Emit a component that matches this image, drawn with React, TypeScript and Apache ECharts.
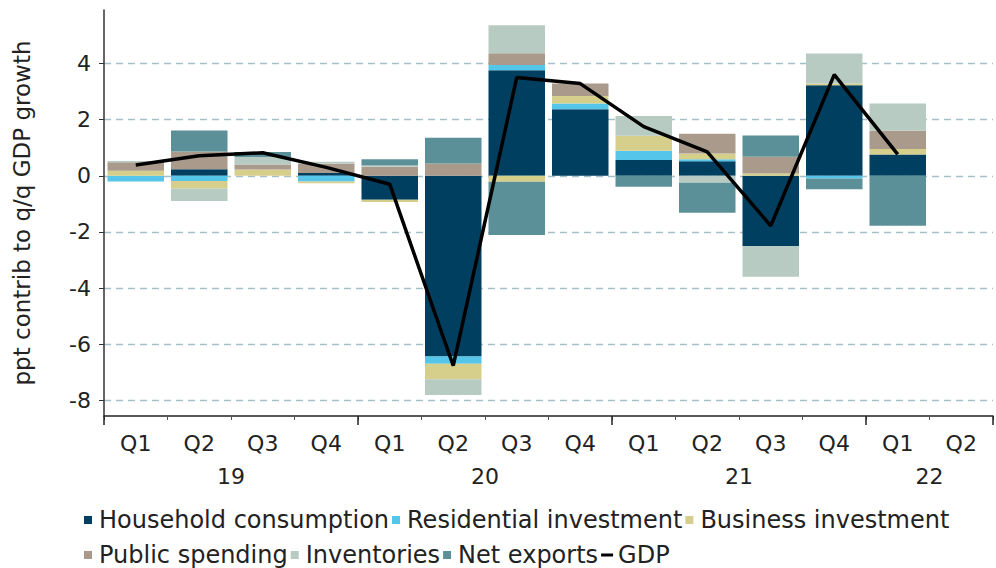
import React, { useEffect, useRef } from "react";
import * as echarts from "echarts";

const quarters = ["Q1", "Q2", "Q3", "Q4", "Q1", "Q2", "Q3", "Q4", "Q1", "Q2", "Q3", "Q4", "Q1", "Q2"];
const years = ["19", "19", "19", "19", "20", "20", "20", "20", "21", "21", "21", "21", "22", "22"];

const household = [0, 0.23, 0, 0.1, -0.85, -6.43, 3.76, 2.37, 0.56, 0.52, -2.5, 3.22, 0.76, null];
const residential = [-0.2, -0.19, 0, -0.2, 0, -0.26, 0.18, 0.2, 0.33, 0.07, 0, -0.1, 0, null];
const business = [0.18, -0.26, 0.22, -0.07, -0.08, -0.55, -0.21, 0.27, 0.53, 0.2, 0.08, 0.06, 0.19, null];
const publicSpending = [0.3, 0.63, 0.18, 0.33, 0.32, 0.44, 0.42, 0.44, 0, 0.71, 0.6, 0, 0.65, null];
const inventories = [0.05, -0.45, 0.27, 0.07, 0.05, -0.56, 1.0, 0, 0.71, -0.25, -1.09, 1.07, 0.97, null];
const netExports = [0, 0.75, 0.18, 0, 0.22, 0.91, -1.9, 0, -0.39, -1.07, 0.75, -0.38, -1.78, null];
const gdp = [0.38, 0.71, 0.82, 0.3, -0.3, -6.76, 3.5, 3.28, 1.75, 0.85, -1.78, 3.6, 0.76, null];

const FONT = "DejaVu Sans";

export default function App() {
  const ref = useRef<HTMLDivElement>(null);
  useEffect(() => {
    document.body.style.margin = "0";
    const chart = echarts.init(ref.current!, null, { renderer: "svg" });

    // year label centres computed from the quarter/year lists
    const yearCentres: Record<string, string> = {};
    const uniq = Array.from(new Set(years));
    uniq.forEach((y) => {
      const first = years.indexOf(y);
      const last = years.lastIndexOf(y);
      yearCentres[String((first + last + 1) / 2)] = y;
    });

    const barSeries = [
      { name: "Household consumption", data: household, color: "#003f5f" },
      { name: "Residential investment", data: residential, color: "#55c5ea" },
      { name: "Business investment", data: business, color: "#d6cf8b" },
      { name: "Public spending", data: publicSpending, color: "#a99a8c" },
      { name: "Inventories", data: inventories, color: "#b8cbc2" },
      { name: "Net exports", data: netExports, color: "#5b9099" },
    ].map((s) => ({
      type: "bar",
      name: s.name,
      data: s.data,
      stack: "total",
      xAxisIndex: 0,
      yAxisIndex: 0,
      barCategoryGap: "11%",
      itemStyle: { color: s.color },
    }));

    const sq = "path://M0,0H8V8H0Z";
    chart.setOption({
      animation: false,
      grid: { left: 104, right: -8, top: 10, bottom: 152 },
      legend: {
        left: 84,
        top: 504,
        width: 890,
        padding: 0,
        itemWidth: 12,
        itemHeight: 8,
        itemGap: 3,
        textStyle: { fontFamily: FONT, fontSize: 24, color: "#222", lineHeight: 32 },
        data: [
          { name: "Household consumption", icon: sq },
          { name: "Residential investment", icon: sq },
          { name: "Business investment", icon: sq },
          { name: "Public spending", icon: sq },
          { name: "Inventories", icon: sq },
          { name: "Net exports", icon: sq },
          { name: "GDP", icon: "path://M0,0H12V3H0Z", itemStyle: { color: "#000" } },
        ],
      },
      xAxis: [
        {
          type: "category",
          data: quarters,
          position: "bottom",
          axisLine: { show: true, onZero: false, lineStyle: { color: "#222", width: 1.5 } },
          axisTick: { show: true, length: 4, lineStyle: { color: "#555" } },
          axisLabel: { fontFamily: FONT, fontSize: 22, color: "#222", margin: 16 },
        },
        {
          type: "value",
          min: 0,
          max: quarters.length,
          interval: 4,
          position: "bottom",
          axisLine: { show: false, onZero: false },
          axisTick: { show: true, length: 9, lineStyle: { color: "#222", width: 1.5 } },
          axisLabel: { show: false },
          splitLine: { show: false },
        },
        {
          type: "value",
          min: 0,
          max: quarters.length,
          interval: 1,
          position: "bottom",
          axisLine: { show: false, onZero: false },
          axisTick: { show: false },
          splitLine: { show: false },
          axisLabel: {
            fontFamily: FONT,
            fontSize: 22,
            color: "#222",
            margin: 49,
            showMinLabel: true,
            showMaxLabel: true,
            formatter: (v: number) => yearCentres[String(v)] || "",
          },
        },
      ],
      yAxis: {
        type: "value",
        min: -8.55,
        max: 5.9,
        splitNumber: 7,
        name: "ppt contrib to q/q GDP growth",
        nameLocation: "middle",
        nameGap: 71,
        nameTextStyle: { fontFamily: FONT, fontSize: 23, color: "#222" },
        axisLine: { show: true, lineStyle: { color: "#333", width: 1.5 } },
        axisTick: { show: true, length: 5, lineStyle: { color: "#333" } },
        axisLabel: {
          fontFamily: FONT,
          fontSize: 22,
          color: "#222",
          margin: 13,
          showMinLabel: false,
          showMaxLabel: false,
        },
        splitLine: {
          show: true,
          showMinLine: false,
          showMaxLine: false,
          lineStyle: { color: "#a5c0c8", type: [7, 5], width: 1.3 },
        },
      },
      series: [
        ...barSeries,
        {
          type: "line",
          name: "GDP",
          data: gdp,
          xAxisIndex: 0,
          yAxisIndex: 0,
          symbol: "none",
          z: 10,
          lineStyle: { color: "#000", width: 3.5 },
          itemStyle: { color: "#000" },
        },
      ],
    });
    return () => chart.dispose();
  }, []);
  return <div ref={ref} style={{ width: 996, height: 568 }} />;
}
